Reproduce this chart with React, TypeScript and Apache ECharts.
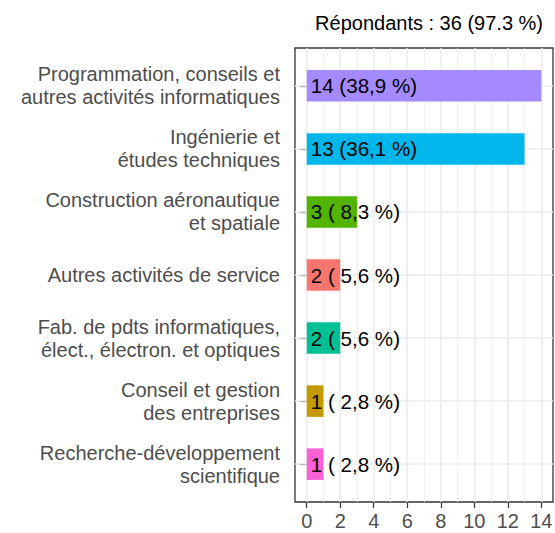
import React, { useEffect, useRef } from "react";
import * as echarts from "echarts";

const categories = [
  "Programmation, conseils et\nautres activités informatiques",
  "Ingénierie et\nétudes techniques",
  "Construction aéronautique\net spatiale",
  "Autres activités de service",
  "Fab. de pdts informatiques,\nélect., électron. et optiques",
  "Conseil et gestion\ndes entreprises",
  "Recherche-développement\nscientifique",
];
const values = [14, 13, 3, 2, 2, 1, 1];
const barLabels = [
  "14 (38,9 %)",
  "13 (36,1 %)",
  "3 ( 8,3 %)",
  "2 ( 5,6 %)",
  "2 ( 5,6 %)",
  "1 ( 2,8 %)",
  "1 ( 2,8 %)",
];
const barColors = ["#A58AFF", "#00B6EB", "#53B400", "#F8766D", "#00C094", "#C49A00", "#FB61D7"];
const xTicks = [0, 2, 4, 6, 8, 10, 12, 14];
const xMinor = [1, 3, 5, 7, 9, 11, 13];
const titleText = "Répondants : 36 (97.3 %)";

const FONT = "'Liberation Sans', Arial, sans-serif";

export default function App() {
  const ref = useRef<HTMLDivElement>(null);
  useEffect(() => {
    if (!ref.current) return;
    const chart = echarts.init(ref.current, null, { renderer: "svg" });
    const panel = { left: 295, top: 48, width: 258, height: 454 };
    const unit = panel.height / 7.2;
    const inner = { left: 295, top: 48 + unit * 0.1, width: 258, height: unit * 7 };
    const gridColor = "#EBEBEB";
    chart.setOption({
      animation: false,
      backgroundColor: "#ffffff",
      textStyle: { fontFamily: FONT },
      title: {
        text: titleText,
        right: 7,
        top: 8,
        textStyle: { fontFamily: FONT, fontSize: 20, fontWeight: "normal", color: "#000000" },
      },
      grid: [
        { id: "bars", ...inner, containLabel: false, outerBoundsMode: "none" },
        { id: "panel", ...panel, show: true, borderColor: "#333333", borderWidth: 1.3, backgroundColor: "#ffffff", z: 0, containLabel: false, outerBoundsMode: "none" },
      ],
      xAxis: [
        { gridIndex: 0, type: "value", min: -0.7, max: 14.7, show: false, position: "bottom" },
        {
          gridIndex: 1,
          type: "value",
          position: "bottom",
          min: -0.7,
          max: 14.7,
          axisLine: { show: false },
          splitLine: { show: false },
          axisTick: { show: true, customValues: xTicks, length: 6, lineStyle: { color: "#333333", width: 1.2 } },
          axisLabel: {
            customValues: xTicks,
            fontSize: 20,
            color: "#4D4D4D",
            margin: 9,
            fontFamily: FONT,
          },
        },
      ],
      yAxis: [
        {
          gridIndex: 0,
          type: "category",
          position: "left",
          data: categories,
          inverse: true,
          axisLine: { show: false },
          splitLine: { show: false },
          axisTick: { show: true, alignWithLabel: true, length: 7, lineStyle: { color: "#333333", width: 1.2 } },
          axisLabel: {
            fontSize: 20,
            lineHeight: 23,
            color: "#4D4D4D",
            margin: 15,
            fontFamily: FONT,
            align: "right",
          },
        },
        { gridIndex: 1, type: "value", min: 0, max: 1, show: false, position: "left" },
      ],
      series: [
        {
          type: "line",
          xAxisIndex: 1,
          yAxisIndex: 1,
          data: [],
          z: 1,
          silent: true,
          markLine: {
            z: 1,
            silent: true,
            symbol: "none",
            label: { show: false },
            emphasis: { disabled: true },
            data: [
              ...xMinor.map((v) => ({ xAxis: v, lineStyle: { color: gridColor, width: 0.8, type: "solid" } })),
              ...xTicks.map((v) => ({ xAxis: v, lineStyle: { color: gridColor, width: 1.5, type: "solid" } })),
            ],
          },
        },
        {
          type: "line",
          xAxisIndex: 0,
          yAxisIndex: 0,
          data: [],
          z: 1,
          silent: true,
          markLine: {
            z: 1,
            silent: true,
            symbol: "none",
            label: { show: false },
            emphasis: { disabled: true },
            data: categories.map((c) => ({ yAxis: c, lineStyle: { color: gridColor, width: 1.5, type: "solid" } })),
          },
        },
        {
          type: "bar",
          xAxisIndex: 0,
          yAxisIndex: 0,
          z: 5,
          barWidth: "50%",
          data: values.map((v, i) => ({ value: v, itemStyle: { color: barColors[i] } })),
          label: {
            show: true,
            position: "insideLeft",
            distance: 4,
            color: "#000000",
            fontSize: 20.6,
            fontFamily: FONT,
            formatter: (p: any) => barLabels[p.dataIndex],
          },
        },
      ],
    });
    return () => chart.dispose();
  }, []);
  return <div ref={ref} style={{ position: "fixed", left: 0, top: 0, width: 555, height: 533 }} />;
}
